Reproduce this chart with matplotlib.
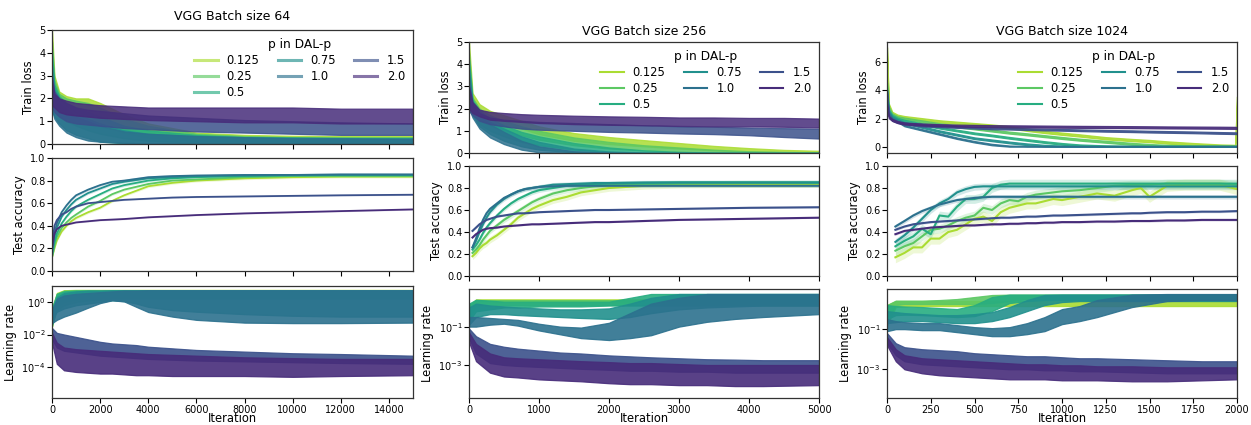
import numpy as np
import matplotlib
matplotlib.use("Agg")
import matplotlib.pyplot as plt
from matplotlib.lines import Line2D
from matplotlib.ticker import NullLocator
import seaborn as sns

plt.rcParams['font.family'] = ['DejaVu Sans']

P_LABELS = ["0.125", "0.25", "0.5", "0.75", "1.0", "1.5", "2.0"]
PALETTE = sns.color_palette("viridis_r", len(P_LABELS))

# ---------------- batch size 64 ----------------
BS64_LOSS_IT = [0, 100, 300, 600, 1000, 1500, 2000, 3000, 4000, 6000, 8000, 10000, 12000, 15000]
BS64_LOSS_LO = [
    [1.8, 1.7, 1.6, 1.5, 1.4, 1.3, 1.1, 0.6, 0.4, 0.2, 0.15, 0.12, 0.1, 0.1],
    [1.8, 1.6, 1.5, 1.4, 1.3, 1.1, 0.9, 0.5, 0.3, 0.15, 0.1, 0.08, 0.06, 0.05],
    [1.6, 1.4, 1.2, 1.0, 0.8, 0.6, 0.45, 0.25, 0.15, 0.05, 0.03, 0.02, 0.02, 0.02],
    [1.5, 1.2, 0.9, 0.6, 0.4, 0.25, 0.1, 0.03, 0.0, 0.0, 0.0, 0.0, 0.0, 0.0],
    [1.5, 1.1, 0.8, 0.5, 0.3, 0.15, 0.1, 0.05, 0.02, 0.0, 0.0, 0.0, 0.0, 0.0],
    [1.6, 1.4, 1.2, 1.0, 0.9, 0.85, 0.8, 0.7, 0.65, 0.55, 0.5, 0.45, 0.4, 0.4],
    [1.7, 1.6, 1.4, 1.3, 1.25, 1.2, 1.15, 1.1, 1.05, 1.0, 0.95, 0.95, 0.9, 0.9],
]
BS64_LOSS_HI = [
    [5.0, 3.0, 2.3, 2.1, 2.0, 2.0, 1.8, 1.3, 0.9, 0.5, 0.4, 0.36, 0.35, 0.35],
    [4.5, 2.8, 2.2, 2.0, 1.9, 1.8, 1.6, 1.1, 0.8, 0.45, 0.35, 0.3, 0.3, 0.3],
    [4.0, 2.6, 2.1, 1.8, 1.6, 1.4, 1.2, 0.8, 0.6, 0.4, 0.3, 0.28, 0.25, 0.25],
    [3.5, 2.4, 2.0, 1.7, 1.4, 1.1, 0.9, 0.6, 0.45, 0.35, 0.3, 0.28, 0.26, 0.25],
    [3.0, 2.2, 1.8, 1.5, 1.2, 1.0, 0.8, 0.55, 0.45, 0.35, 0.3, 0.25, 0.25, 0.22],
    [3.0, 2.3, 2.0, 1.8, 1.6, 1.5, 1.45, 1.35, 1.25, 1.15, 1.05, 1.0, 0.95, 0.9],
    [2.8, 2.2, 2.0, 1.9, 1.8, 1.75, 1.7, 1.65, 1.6, 1.6, 1.6, 1.6, 1.55, 1.55],
]
BS64_ACC_IT = [0, 100, 200, 400, 600, 800, 1000, 1500, 2000, 2500, 3000, 4000, 5000, 6000, 8000, 10000, 12000, 15000]
BS64_ACC = [
    [0.12, 0.2, 0.27, 0.35, 0.4, 0.44, 0.47, 0.52, 0.56, 0.62, 0.67, 0.75, 0.78, 0.8, 0.82, 0.83, 0.835, 0.835],
    [0.12, 0.22, 0.3, 0.38, 0.43, 0.47, 0.5, 0.57, 0.62, 0.68, 0.72, 0.77, 0.8, 0.81, 0.83, 0.84, 0.84, 0.84],
    [0.13, 0.25, 0.33, 0.42, 0.48, 0.53, 0.57, 0.63, 0.68, 0.73, 0.76, 0.8, 0.82, 0.83, 0.84, 0.845, 0.85, 0.85],
    [0.15, 0.3, 0.38, 0.48, 0.54, 0.59, 0.63, 0.69, 0.73, 0.77, 0.79, 0.82, 0.83, 0.84, 0.845, 0.85, 0.85, 0.85],
    [0.15, 0.33, 0.42, 0.52, 0.58, 0.63, 0.67, 0.72, 0.76, 0.79, 0.8, 0.83, 0.84, 0.845, 0.85, 0.85, 0.855, 0.855],
    [0.2, 0.4, 0.45, 0.5, 0.52, 0.55, 0.57, 0.6, 0.61, 0.62, 0.63, 0.64, 0.65, 0.655, 0.66, 0.665, 0.67, 0.675],
    [0.2, 0.33, 0.37, 0.4, 0.41, 0.42, 0.43, 0.44, 0.45, 0.455, 0.46, 0.475, 0.485, 0.495, 0.51, 0.52, 0.53, 0.545],
]
BS64_ACC_SPREAD = [0.012, 0.012, 0.012, 0.012, 0.012, 0.006, 0.006]
BS64_LR_IT = [0, 200, 500, 1000, 1500, 2000, 2500, 3000, 3500, 4000, 5000, 6000, 8000, 10000, 12000, 15000]
BS64_LR_LOG_LO = [
    [-1.5, -0.2, 0.1, 0.2, 0.25, 0.3, 0.3, 0.3, 0.3, 0.3, 0.3, 0.3, 0.3, 0.3, 0.3, 0.3],
    [-1.5, -0.3, 0.0, 0.15, 0.2, 0.25, 0.25, 0.25, 0.25, 0.25, 0.25, 0.25, 0.25, 0.25, 0.25, 0.25],
    [-1.4, -0.5, -0.2, 0.0, 0.1, 0.15, 0.2, 0.2, 0.2, 0.2, 0.2, 0.2, 0.2, 0.2, 0.2, 0.2],
    [-1.0, -0.6, -0.4, -0.2, -0.1, 0.0, 0.1, 0.05, -0.1, -0.3, -0.5, -0.6, -0.75, -0.85, -0.9, -0.9],
    [-1.3, -1.1, -0.9, -0.65, -0.35, -0.07, 0.1, 0.03, -0.3, -0.62, -0.9, -1.1, -1.27, -1.3, -1.3, -1.27],
    [-2.3, -2.8, -3.0, -3.1, -3.2, -3.3, -3.35, -3.4, -3.45, -3.5, -3.55, -3.6, -3.65, -3.7, -3.75, -3.8],
    [-2.5, -3.8, -4.2, -4.3, -4.35, -4.4, -4.4, -4.45, -4.5, -4.5, -4.55, -4.55, -4.55, -4.6, -4.55, -4.5],
]
BS64_LR_LOG_HI = [
    [-0.4, 0.55, 0.72, 0.74, 0.74, 0.74, 0.74, 0.74, 0.74, 0.74, 0.74, 0.74, 0.74, 0.74, 0.74, 0.74],
    [-0.4, 0.5, 0.7, 0.72, 0.72, 0.72, 0.72, 0.72, 0.72, 0.72, 0.72, 0.72, 0.72, 0.72, 0.72, 0.72],
    [-0.4, 0.5, 0.65, 0.7, 0.7, 0.7, 0.7, 0.7, 0.7, 0.7, 0.7, 0.7, 0.7, 0.7, 0.7, 0.7],
    [-0.5, 0.3, 0.55, 0.65, 0.7, 0.7, 0.72, 0.72, 0.72, 0.72, 0.72, 0.72, 0.72, 0.72, 0.72, 0.72],
    [-0.5, 0.2, 0.4, 0.5, 0.55, 0.6, 0.65, 0.7, 0.7, 0.72, 0.72, 0.72, 0.72, 0.72, 0.72, 0.72],
    [-1.6, -1.9, -2.0, -2.15, -2.3, -2.45, -2.55, -2.6, -2.65, -2.75, -2.85, -2.95, -3.05, -3.15, -3.2, -3.3],
    [-1.9, -2.5, -2.8, -2.9, -2.95, -3.0, -3.05, -3.1, -3.15, -3.2, -3.25, -3.3, -3.4, -3.45, -3.5, -3.5],
]

# ---------------- batch size 256 ----------------
BS256_LOSS_IT = [0, 50, 150, 300, 500, 750, 1000, 1500, 2000, 2500, 3000, 3500, 4000, 4500, 5000]
BS256_LOSS_LO = [
    [2.5, 2.0, 1.7, 1.5, 1.3, 1.1, 0.85, 0.55, 0.4, 0.3, 0.2, 0.12, 0.07, 0.04, 0.02],
    [2.3, 1.9, 1.5, 1.25, 1.05, 0.8, 0.6, 0.35, 0.2, 0.12, 0.06, 0.02, 0.0, 0.0, 0.0],
    [2.2, 1.8, 1.3, 1.0, 0.75, 0.5, 0.35, 0.15, 0.05, 0.0, 0.0, 0.0, 0.0, 0.0, 0.0],
    [2.0, 1.7, 1.2, 0.85, 0.55, 0.3, 0.15, 0.03, 0.0, 0.0, 0.0, 0.0, 0.0, 0.0, 0.0],
    [2.0, 1.6, 1.1, 0.7, 0.4, 0.15, 0.03, 0.0, 0.0, 0.0, 0.0, 0.0, 0.0, 0.0, 0.0],
    [1.9, 1.7, 1.45, 1.3, 1.2, 1.1, 1.05, 1.0, 0.95, 0.92, 0.88, 0.85, 0.8, 0.72, 0.65],
    [2.0, 1.8, 1.65, 1.5, 1.45, 1.4, 1.35, 1.3, 1.27, 1.25, 1.22, 1.2, 1.2, 1.18, 1.15],
]
BS256_LOSS_HI = [
    [5.0, 2.7, 2.2, 1.9, 1.7, 1.45, 1.2, 0.9, 0.72, 0.58, 0.45, 0.32, 0.22, 0.14, 0.1],
    [4.5, 2.5, 2.0, 1.7, 1.45, 1.2, 1.0, 0.7, 0.5, 0.35, 0.25, 0.15, 0.08, 0.05, 0.03],
    [4.2, 2.4, 1.9, 1.55, 1.25, 0.95, 0.75, 0.45, 0.25, 0.12, 0.05, 0.02, 0.01, 0.0, 0.0],
    [3.8, 2.3, 1.8, 1.4, 1.1, 0.75, 0.5, 0.2, 0.07, 0.02, 0.01, 0.0, 0.0, 0.0, 0.0],
    [3.5, 2.2, 1.7, 1.3, 0.95, 0.55, 0.3, 0.08, 0.02, 0.0, 0.0, 0.0, 0.0, 0.0, 0.0],
    [3.0, 2.2, 1.8, 1.6, 1.5, 1.45, 1.4, 1.35, 1.3, 1.25, 1.2, 1.18, 1.15, 1.12, 1.1],
    [3.0, 2.3, 1.95, 1.85, 1.8, 1.75, 1.72, 1.68, 1.65, 1.63, 1.6, 1.6, 1.58, 1.58, 1.55],
]
BS256_ACC_IT = [50, 100, 150, 200, 250, 300, 400, 500, 600, 700, 800, 900, 1000, 1200, 1400, 1600, 1800, 2000, 2500, 3000, 4000, 5000]
BS256_ACC = [
    [0.18, 0.21, 0.25, 0.28, 0.3, 0.33, 0.37, 0.42, 0.47, 0.53, 0.57, 0.61, 0.64, 0.69, 0.72, 0.76, 0.78, 0.8, 0.82, 0.83, 0.835, 0.835],
    [0.21, 0.24, 0.28, 0.33, 0.37, 0.41, 0.46, 0.51, 0.55, 0.59, 0.63, 0.67, 0.7, 0.75, 0.78, 0.8, 0.815, 0.825, 0.835, 0.84, 0.845, 0.845],
    [0.24, 0.28, 0.33, 0.39, 0.44, 0.48, 0.55, 0.61, 0.66, 0.7, 0.73, 0.76, 0.78, 0.8, 0.82, 0.83, 0.835, 0.84, 0.845, 0.85, 0.85, 0.85],
    [0.26, 0.32, 0.4, 0.47, 0.53, 0.58, 0.65, 0.7, 0.74, 0.77, 0.79, 0.8, 0.81, 0.83, 0.835, 0.84, 0.845, 0.845, 0.85, 0.85, 0.85, 0.85],
    [0.26, 0.34, 0.43, 0.51, 0.57, 0.61, 0.66, 0.71, 0.74, 0.77, 0.79, 0.8, 0.81, 0.815, 0.82, 0.82, 0.82, 0.82, 0.82, 0.82, 0.82, 0.82],
    [0.41, 0.44, 0.47, 0.49, 0.51, 0.52, 0.54, 0.55, 0.56, 0.57, 0.57, 0.575, 0.58, 0.585, 0.59, 0.595, 0.6, 0.6, 0.605, 0.61, 0.62, 0.625],
    [0.35, 0.38, 0.4, 0.42, 0.43, 0.435, 0.44, 0.45, 0.455, 0.46, 0.465, 0.47, 0.47, 0.475, 0.48, 0.485, 0.49, 0.49, 0.5, 0.51, 0.52, 0.53],
]
BS256_ACC_SPREAD = [0.03, 0.025, 0.02, 0.02, 0.015, 0.006, 0.006]
BS256_LR_IT = [0, 100, 300, 500, 700, 1000, 1300, 1600, 2000, 2300, 2600, 3000, 3400, 3800, 4200, 5000]
BS256_LR_LOG_LO = [
    [-0.5, 0.25, 0.25, 0.25, 0.25, 0.25, 0.25, 0.25, 0.25, 0.25, 0.25, 0.25, 0.25, 0.25, 0.25, 0.25],
    [-0.6, 0.1, 0.12, 0.12, 0.12, 0.12, 0.12, 0.12, 0.12, 0.12, 0.12, 0.12, 0.12, 0.12, 0.12, 0.12],
    [-0.7, -0.2, -0.1, 0.0, 0.0, 0.05, 0.05, 0.05, 0.1, 0.1, 0.1, 0.1, 0.1, 0.1, 0.1, 0.1],
    [-0.9, -0.5, -0.35, -0.35, -0.4, -0.45, -0.5, -0.55, -0.6, -0.5, -0.3, -0.1, 0.0, 0.05, 0.1, 0.1],
    [-1.0, -1.0, -0.9, -0.85, -0.95, -1.2, -1.4, -1.6, -1.7, -1.6, -1.45, -1.0, -0.75, -0.6, -0.5, -0.35],
    [-1.6, -2.4, -2.9, -3.0, -3.05, -3.1, -3.15, -3.2, -3.25, -3.3, -3.3, -3.35, -3.35, -3.4, -3.4, -3.4],
    [-1.8, -2.8, -3.4, -3.6, -3.65, -3.75, -3.8, -3.85, -3.95, -4.0, -4.0, -4.05, -4.05, -4.1, -4.1, -4.05],
]
BS256_LR_LOG_HI = [
    [0.1, 0.42, 0.42, 0.42, 0.42, 0.42, 0.42, 0.42, 0.42, 0.42, 0.42, 0.42, 0.42, 0.42, 0.42, 0.42],
    [0.1, 0.38, 0.38, 0.38, 0.38, 0.38, 0.38, 0.38, 0.38, 0.38, 0.38, 0.38, 0.38, 0.38, 0.38, 0.38],
    [0.2, 0.4, 0.35, 0.3, 0.3, 0.3, 0.3, 0.3, 0.3, 0.5, 0.7, 0.7, 0.7, 0.7, 0.7, 0.7],
    [0.0, 0.2, 0.1, 0.05, 0.0, -0.05, -0.1, -0.1, -0.05, 0.2, 0.5, 0.7, 0.7, 0.7, 0.7, 0.7],
    [-0.5, -0.5, -0.55, -0.6, -0.65, -0.85, -1.0, -1.05, -0.8, -0.3, 0.2, 0.5, 0.7, 0.7, 0.7, 0.7],
    [-1.1, -1.5, -1.9, -2.05, -2.15, -2.25, -2.35, -2.4, -2.5, -2.55, -2.6, -2.65, -2.7, -2.72, -2.75, -2.75],
    [-1.3, -1.9, -2.4, -2.6, -2.65, -2.7, -2.75, -2.8, -2.85, -2.9, -2.9, -2.95, -3.0, -3.0, -3.0, -3.0],
]

# ---------------- batch size 1024 ----------------
BS1024_LOSS_IT = [0, 10, 30, 60, 100, 200, 300, 400, 500, 600, 700, 800, 900, 1000, 1100, 1250, 1400, 1500, 1600, 1750, 1900, 1990, 2000]
BS1024_LOSS_MID = [
    [7.0, 3.0, 2.4, 2.2, 2.1, 1.95, 1.8, 1.7, 1.6, 1.5, 1.38, 1.2, 1.05, 0.92, 0.8, 0.6, 0.47, 0.4, 0.3, 0.18, 0.08, 0.05, 3.5],
    [4.5, 2.8, 2.3, 2.1, 2.0, 1.8, 1.6, 1.45, 1.3, 1.15, 1.0, 0.88, 0.75, 0.62, 0.5, 0.35, 0.2, 0.12, 0.06, 0.02, 0.01, 0.0, 0.0],
    [4.0, 2.6, 2.2, 2.0, 1.85, 1.6, 1.35, 1.15, 0.95, 0.8, 0.63, 0.48, 0.33, 0.2, 0.1, 0.03, 0.0, 0.0, 0.0, 0.0, 0.0, 0.0, 0.0],
    [3.8, 2.5, 2.1, 1.9, 1.7, 1.4, 1.1, 0.85, 0.6, 0.45, 0.3, 0.17, 0.07, 0.02, 0.0, 0.0, 0.0, 0.0, 0.0, 0.0, 0.0, 0.0, 0.0],
    [3.5, 2.4, 2.0, 1.8, 1.5, 1.2, 0.9, 0.6, 0.35, 0.15, 0.03, 0.0, 0.0, 0.0, 0.0, 0.0, 0.0, 0.0, 0.0, 0.0, 0.0, 0.0, 0.0],
    [4.0, 2.2, 1.9, 1.75, 1.65, 1.5, 1.45, 1.4, 1.35, 1.3, 1.28, 1.25, 1.22, 1.2, 1.17, 1.13, 1.1, 1.07, 1.05, 1.02, 0.98, 0.96, 0.95],
    [3.0, 2.1, 1.9, 1.75, 1.65, 1.58, 1.53, 1.5, 1.48, 1.46, 1.45, 1.44, 1.43, 1.42, 1.41, 1.4, 1.39, 1.38, 1.37, 1.36, 1.35, 1.34, 1.33],
]
BS1024_LOSS_HALF = [0.08, 0.07, 0.06, 0.06, 0.05, 0.06, 0.07]
BS1024_ACC_IT = [48, 100, 150, 200, 250, 300, 350, 400, 450, 500, 550, 600, 650, 700, 750, 800, 850, 900, 950, 1000,
                 1100, 1200, 1300, 1400, 1450, 1500, 1600, 1700, 1800, 1900, 2000]
BS1024_ACC = [
    [0.17, 0.21, 0.26, 0.26, 0.34, 0.34, 0.4, 0.42, 0.47, 0.52, 0.54, 0.5, 0.58, 0.62, 0.64, 0.66, 0.66, 0.68, 0.7, 0.69,
     0.72, 0.75, 0.73, 0.78, 0.8, 0.72, 0.82, 0.83, 0.83, 0.83, 0.79],
    [0.23, 0.27, 0.3, 0.36, 0.42, 0.43, 0.46, 0.5, 0.53, 0.55, 0.62, 0.6, 0.66, 0.69, 0.68, 0.72, 0.74, 0.75, 0.76, 0.77,
     0.78, 0.8, 0.82, 0.83, 0.83, 0.83, 0.84, 0.84, 0.84, 0.84, 0.83],
    [0.27, 0.32, 0.36, 0.43, 0.38, 0.55, 0.54, 0.63, 0.7, 0.7, 0.72, 0.8, 0.83, 0.84, 0.84, 0.84, 0.84, 0.84, 0.84, 0.84,
     0.84, 0.84, 0.84, 0.84, 0.84, 0.84, 0.84, 0.84, 0.84, 0.84, 0.84],
    [0.31, 0.37, 0.44, 0.52, 0.6, 0.66, 0.7, 0.76, 0.79, 0.81, 0.815, 0.815, 0.815, 0.815, 0.815, 0.815, 0.815, 0.815, 0.815, 0.815,
     0.815, 0.815, 0.815, 0.815, 0.815, 0.815, 0.815, 0.815, 0.815, 0.815, 0.815],
    [0.45, 0.5, 0.55, 0.59, 0.62, 0.65, 0.67, 0.69, 0.7, 0.71, 0.715, 0.72, 0.72, 0.72, 0.72, 0.72, 0.72, 0.72, 0.72, 0.72,
     0.72, 0.72, 0.72, 0.72, 0.72, 0.72, 0.72, 0.72, 0.72, 0.72, 0.72],
    [0.42, 0.45, 0.47, 0.48, 0.49, 0.495, 0.5, 0.505, 0.51, 0.515, 0.52, 0.525, 0.53, 0.53, 0.535, 0.54, 0.54, 0.545, 0.55, 0.55,
     0.555, 0.56, 0.565, 0.57, 0.57, 0.575, 0.58, 0.58, 0.585, 0.585, 0.59],
    [0.38, 0.41, 0.42, 0.43, 0.44, 0.445, 0.45, 0.455, 0.46, 0.46, 0.465, 0.47, 0.47, 0.475, 0.475, 0.48, 0.48, 0.485, 0.485, 0.49,
     0.49, 0.495, 0.495, 0.5, 0.5, 0.5, 0.505, 0.505, 0.51, 0.51, 0.51],
]
BS1024_ACC_SPREAD = [0.05, 0.04, 0.04, 0.03, 0.02, 0.01, 0.01]
BS1024_LR_IT = [0, 50, 100, 200, 300, 400, 500, 600, 700, 800, 900, 1000, 1100, 1200, 1400, 1600, 1800, 2000]
BS1024_LR_LOG_LO = [
    [-0.8, 0.1, 0.15, 0.15, 0.15, 0.15, 0.15, 0.15, 0.15, 0.15, 0.15, 0.15, 0.15, 0.15, 0.15, 0.15, 0.15, 0.15],
    [-0.6, 0.2, 0.25, 0.25, 0.25, 0.25, 0.25, 0.3, 0.4, 0.5, 0.5, 0.5, 0.5, 0.5, 0.5, 0.5, 0.5, 0.5],
    [-0.5, -0.3, -0.28, -0.3, -0.35, -0.4, -0.35, -0.1, 0.3, 0.4, 0.45, 0.45, 0.45, 0.45, 0.45, 0.45, 0.45, 0.45],
    [-0.7, -0.65, -0.6, -0.6, -0.65, -0.7, -0.7, -0.6, -0.4, -0.1, 0.2, 0.35, 0.4, 0.4, 0.4, 0.4, 0.4, 0.4],
    [-1.1, -1.0, -1.0, -1.05, -1.05, -1.15, -1.25, -1.35, -1.35, -1.25, -1.1, -0.75, -0.6, -0.4, 0.1, 0.4, 0.45, 0.45],
    [-1.7, -2.3, -2.6, -2.75, -2.8, -2.85, -2.9, -2.95, -3.0, -3.0, -3.05, -3.05, -3.1, -3.1, -3.15, -3.2, -3.2, -3.2],
    [-1.8, -2.6, -3.0, -3.2, -3.3, -3.35, -3.4, -3.45, -3.5, -3.5, -3.5, -3.55, -3.55, -3.55, -3.6, -3.6, -3.55, -3.5],
]
BS1024_LR_LOG_HI = [
    [0.2, 0.4, 0.4, 0.4, 0.4, 0.4, 0.4, 0.4, 0.4, 0.4, 0.4, 0.4, 0.4, 0.4, 0.4, 0.4, 0.4, 0.4],
    [0.2, 0.42, 0.42, 0.42, 0.45, 0.5, 0.6, 0.7, 0.72, 0.72, 0.72, 0.72, 0.72, 0.72, 0.72, 0.72, 0.72, 0.72],
    [0.2, 0.15, 0.13, 0.1, 0.05, 0.0, 0.2, 0.6, 0.72, 0.72, 0.72, 0.72, 0.72, 0.72, 0.72, 0.72, 0.72, 0.72],
    [-0.1, -0.15, -0.2, -0.25, -0.3, -0.3, -0.25, -0.15, 0.1, 0.45, 0.7, 0.72, 0.72, 0.72, 0.72, 0.72, 0.72, 0.72],
    [-0.5, -0.6, -0.65, -0.7, -0.7, -0.8, -0.9, -0.95, -0.9, -0.7, -0.4, 0.0, 0.15, 0.45, 0.72, 0.75, 0.75, 0.75],
    [-1.2, -1.7, -1.9, -2.0, -2.05, -2.1, -2.2, -2.25, -2.3, -2.35, -2.35, -2.4, -2.45, -2.45, -2.5, -2.55, -2.6, -2.6],
    [-1.4, -2.0, -2.3, -2.45, -2.5, -2.55, -2.6, -2.65, -2.7, -2.75, -2.75, -2.8, -2.8, -2.85, -2.85, -2.9, -2.9, -2.9],
]

FIG_W, FIG_H = 1251, 425


def rect(left, top, right, bottom):
    return [left / FIG_W, 1 - bottom / FIG_H, (right - left) / FIG_W, (bottom - top) / FIG_H]


def band(ax, x, lo, hi, color, alpha):
    ax.fill_between(x, lo, hi, facecolor=color, edgecolor=color, alpha=alpha, lw=0.9)


def style(ax, fs=7):
    ax.tick_params(labelsize=fs, length=3.5, width=0.8, pad=1.2)
    for s in ax.spines.values():
        s.set_linewidth(0.9)
        s.set_color('#333333')


columns = [
    dict(title="VGG Batch size 64", lr_x=52, rx=413, title_pad=7,
         rows=[(30, 144), (158, 271), (286, 398)],
         xmax=15000, xticks=np.arange(0, 15001, 2000),
         loss=(BS64_LOSS_IT, BS64_LOSS_LO, BS64_LOSS_HI), loss_ylim=(0, 5), loss_ticks=[0, 1, 2, 3, 4, 5],
         acc=(BS64_ACC_IT, BS64_ACC, BS64_ACC_SPREAD), acc_lw=1.3,
         lr=(BS64_LR_IT, BS64_LR_LOG_LO, BS64_LR_LOG_HI), lr_ylim=(-5.9, 0.98), lr_ticks=[0, -2, -4],
         legend_alpha=0.65, legend_lw=2.2),
    dict(title="VGG Batch size 256", lr_x=469, rx=819, title_pad=5,
         rows=[(42, 153), (166, 276), (289, 398)],
         xmax=5000, xticks=np.arange(0, 5001, 1000),
         loss=(BS256_LOSS_IT, BS256_LOSS_LO, BS256_LOSS_HI), loss_ylim=(0, 5), loss_ticks=[0, 1, 2, 3, 4, 5],
         acc=(BS256_ACC_IT, BS256_ACC, BS256_ACC_SPREAD), acc_lw=1.5,
         lr=(BS256_LR_IT, BS256_LR_LOG_LO, BS256_LR_LOG_HI), lr_ylim=(-4.72, 0.96), lr_ticks=[-1, -3],
         legend_alpha=1.0, legend_lw=1.5),
    dict(title="VGG Batch size 1024", lr_x=887, rx=1237, title_pad=5,
         rows=[(42, 153), (166, 276), (289, 398)],
         xmax=2000, xticks=np.arange(0, 2001, 250),
         loss=None, loss_ylim=(-0.45, 7.45), loss_ticks=[0, 2, 4, 6],
         acc=(BS1024_ACC_IT, BS1024_ACC, BS1024_ACC_SPREAD), acc_lw=1.5,
         lr=(BS1024_LR_IT, BS1024_LR_LOG_LO, BS1024_LR_LOG_HI), lr_ylim=(-4.43, 1.0), lr_ticks=[-1, -3],
         legend_alpha=1.0, legend_lw=1.5),
]

fig = plt.figure(figsize=(FIG_W / 100, FIG_H / 100), dpi=100)

for col in columns:
    L, R = col["lr_x"], col["rx"]
    ax_loss = fig.add_axes(rect(L, col["rows"][0][0], R, col["rows"][0][1]))
    ax_acc = fig.add_axes(rect(L, col["rows"][1][0], R, col["rows"][1][1]))
    ax_lr = fig.add_axes(rect(L, col["rows"][2][0], R, col["rows"][2][1]))

    # training loss bands
    if col["loss"] is not None:
        x, lo, hi = col["loss"]
        for i in range(len(P_LABELS)):
            band(ax_loss, x, lo[i], hi[i], PALETTE[i], 0.85)
    else:
        x = np.array(BS1024_LOSS_IT)
        for i in range(len(P_LABELS)):
            mid = np.array(BS1024_LOSS_MID[i])
            h = BS1024_LOSS_HALF[i]
            band(ax_loss, x, np.maximum(mid - h, 0), mid + h, PALETTE[i], 0.9)

    # test accuracy lines with shaded spread
    x, acc, spread = col["acc"]
    for i in range(len(P_LABELS)):
        a = np.array(acc[i])
        ax_acc.fill_between(x, a - spread[i], a + spread[i], color=PALETTE[i], alpha=0.2, lw=0)
        ax_acc.plot(x, a, color=PALETTE[i], lw=col["acc_lw"])

    # learning-rate bands on log scale
    x, lo, hi = col["lr"]
    for i in range(len(P_LABELS)):
        band(ax_lr, x, 10 ** np.array(lo[i]), 10 ** np.array(hi[i]), PALETTE[i], 0.9)
    ax_lr.set_yscale('log')
    ax_lr.set_ylim(10 ** col["lr_ylim"][0], 10 ** col["lr_ylim"][1])
    ax_lr.set_yticks([10.0 ** t for t in col["lr_ticks"]])
    ax_lr.yaxis.set_minor_locator(NullLocator())

    ax_loss.set_ylim(*col["loss_ylim"])
    ax_loss.set_yticks(col["loss_ticks"])
    ax_acc.set_ylim(0, 1)
    ax_acc.set_yticks(np.arange(0, 1.01, 0.2))
    ax_acc.set_yticklabels([f"{v:.1f}" for v in np.arange(0, 1.01, 0.2)])

    for ax in (ax_loss, ax_acc, ax_lr):
        ax.set_xlim(0, col["xmax"])
        ax.set_xticks(col["xticks"])
        style(ax)
    ax_loss.set_xticklabels([])
    ax_acc.set_xticklabels([])

    ax_loss.set_ylabel("Train loss", fontsize=8.3, labelpad=3)
    ax_acc.set_ylabel("Test accuracy", fontsize=8.3, labelpad=3)
    ax_lr.set_ylabel("Learning rate", fontsize=8.3, labelpad=3)
    ax_lr.set_xlabel("Iteration", fontsize=8.3, labelpad=-1.5)
    ax_loss.set_title(col["title"], fontsize=9, pad=col["title_pad"])

    handles = [Line2D([], [], color=PALETTE[i], lw=col["legend_lw"], alpha=col["legend_alpha"])
               for i in range(len(P_LABELS))]
    ax_loss.legend(handles, P_LABELS, title="p in DAL-p", ncol=3, loc="upper right",
                   frameon=False, fontsize=8.3, title_fontsize=8.8, handlelength=2.0,
                   columnspacing=1.6, labelspacing=0.25, borderaxespad=0.3)

fig.savefig("out.png", dpi=100)
